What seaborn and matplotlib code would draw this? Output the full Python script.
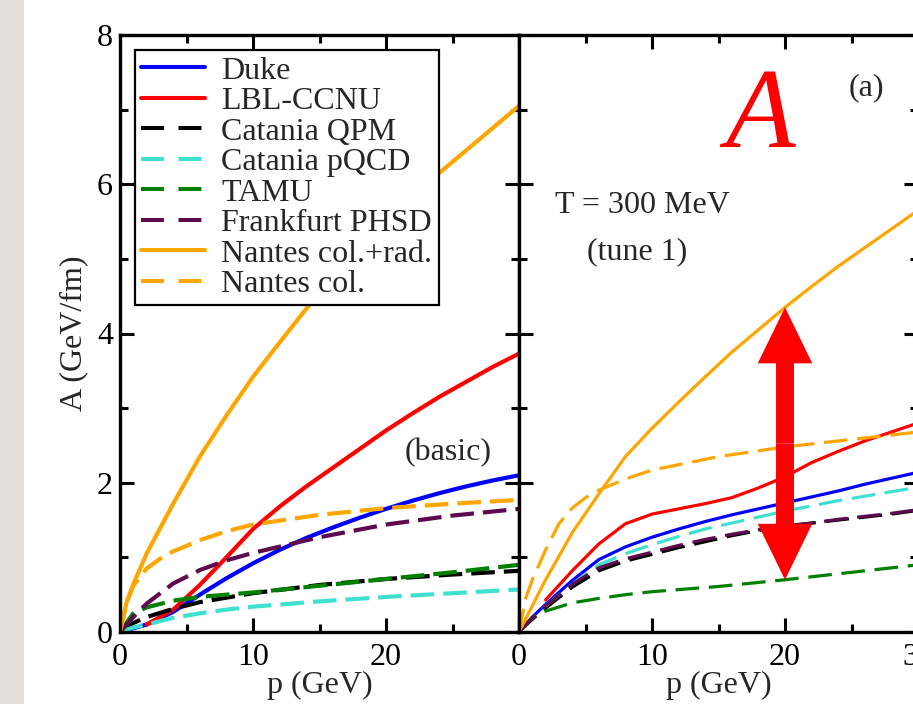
import numpy as np
import matplotlib
matplotlib.use("Agg")
import matplotlib.pyplot as plt
from matplotlib.lines import Line2D
from matplotlib.patches import FancyArrow, Rectangle
from matplotlib.ticker import MultipleLocator, FixedLocator, FixedFormatter
import seaborn as sns

# ---------------- drag coefficient A(p), T = 300 MeV ----------------
# momentum grids (GeV)
p_grid = [0, 2, 4, 6, 8, 10, 12, 14, 16, 18, 20, 22, 24, 26, 28, 30]
p_from2 = [2, 4, 6, 8, 10, 12, 14, 16, 18, 20, 22, 24, 26, 28, 30]
p_coarse = [0, 1, 2, 4, 6, 8, 10, 15, 20, 25, 30]
p_steep = [0, 0.5, 1, 2, 4, 6, 8, 10, 12, 14, 16, 18, 20, 22, 24, 26, 28, 30]
p_col = [0, 0.5, 1, 2, 3, 4, 6, 8, 10, 15, 20, 25, 30]
p_col_tune = [0, 0.5, 1, 2, 3, 4, 5, 6, 8, 10, 15, 20, 25, 30]
p_tune = [0, 1, 2, 4, 6, 8, 10, 12, 14, 16, 18, 20, 22, 24, 26, 28, 30]

# left panel: basic
duke_basic = [0, 0.1, 0.27, 0.5, 0.72, 0.92, 1.1, 1.26, 1.4, 1.53, 1.65, 1.76, 1.86, 1.95, 2.03, 2.1]
lbl_basic = [0.1, 0.3, 0.63, 1.0, 1.38, 1.68, 1.95, 2.2, 2.45, 2.7, 2.93, 3.15, 3.35, 3.55, 3.73]
qpm_basic = [0, 0.12, 0.2, 0.31, 0.4, 0.46, 0.52, 0.63, 0.71, 0.77, 0.82]
pqcd_basic = [0, 0.06, 0.1, 0.19, 0.25, 0.3, 0.34, 0.41, 0.47, 0.52, 0.57]
tamu_basic = [0, 0.25, 0.33, 0.42, 0.47, 0.5, 0.53, 0.62, 0.71, 0.8, 0.9]
phsd_basic = [0, 0.2, 0.38, 0.65, 0.83, 0.96, 1.06, 1.27, 1.44, 1.56, 1.65]
nantes_rad_basic = [0, 0.4, 0.64, 1.05, 1.72, 2.35, 2.9, 3.42, 3.88, 4.33, 4.75, 5.12,
                    5.48, 5.82, 6.15, 6.45, 6.75, 7.05]
nantes_col_basic = [0, 0.4, 0.62, 0.85, 0.98, 1.08, 1.23, 1.35, 1.44, 1.57, 1.66, 1.72, 1.77]

# right panel: tune 1
duke_tune = [0, 0.2, 0.37, 0.69, 0.97, 1.14, 1.27, 1.38, 1.48, 1.57, 1.65, 1.73, 1.81, 1.89, 1.98, 2.06, 2.14]
lbl_tune = [0.43, 0.82, 1.18, 1.45, 1.58, 1.65, 1.72, 1.8, 1.93, 2.08, 2.27, 2.42, 2.56, 2.68, 2.8]
qpm_tune = [0, 0.17, 0.32, 0.6, 0.82, 0.95, 1.04, 1.13, 1.21, 1.29, 1.36, 1.42, 1.46, 1.5, 1.54, 1.58, 1.63]
pqcd_tune = [0, 0.19, 0.35, 0.64, 0.9, 1.05, 1.17, 1.28, 1.38, 1.46, 1.54, 1.62, 1.69, 1.76, 1.82, 1.88, 1.94]
tamu_tune = [0, 0.2, 0.28, 0.39, 0.45, 0.5, 0.54, 0.61, 0.7, 0.8, 0.9]
phsd_tune = [0, 0.19, 0.35, 0.64, 0.86, 0.98, 1.07, 1.16, 1.24, 1.31, 1.37, 1.42, 1.46, 1.51, 1.55, 1.59, 1.64]
nantes_rad_tune = [0, 0.7, 1.33, 1.85, 2.35, 2.73, 3.08, 3.42, 3.75, 4.05, 4.35, 4.63, 4.9, 5.15, 5.4, 5.65]
nantes_col_tune = [0, 0.45, 0.7, 1.1, 1.45, 1.66, 1.8, 1.9, 2.05, 2.17, 2.35, 2.48, 2.58, 2.68]

models = ["Duke", "LBL-CCNU", "Catania QPM", "Catania pQCD", "TAMU",
          "Frankfurt PHSD", "Nantes col.+rad.", "Nantes col."]

basic = {
    "Duke": (p_grid, duke_basic),
    "LBL-CCNU": (p_from2, lbl_basic),
    "Catania QPM": (p_coarse, qpm_basic),
    "Catania pQCD": (p_coarse, pqcd_basic),
    "TAMU": (p_coarse, tamu_basic),
    "Frankfurt PHSD": (p_coarse, phsd_basic),
    "Nantes col.+rad.": (p_steep, nantes_rad_basic),
    "Nantes col.": (p_col, nantes_col_basic),
}
tune1 = {
    "Duke": (p_tune, duke_tune),
    "LBL-CCNU": (p_from2, lbl_tune),
    "Catania QPM": (p_tune, qpm_tune),
    "Catania pQCD": (p_tune, pqcd_tune),
    "TAMU": (p_coarse, tamu_tune),
    "Frankfurt PHSD": (p_tune, phsd_tune),
    "Nantes col.+rad.": (p_grid, nantes_rad_tune),
    "Nantes col.": (p_col_tune, nantes_col_tune),
}

# line colour and whether the curve is dashed
STYLE = {
    "Duke": ("#0000ff", False),
    "LBL-CCNU": ("#ff0000", False),
    "Catania QPM": ("#000000", True),
    "Catania pQCD": ("#40e0d0", True),
    "TAMU": ("#008000", True),
    "Frankfurt PHSD": ("#5e0a4e", True),
    "Nantes col.+rad.": ("#ffa500", False),
    "Nantes col.": ("#ffa500", True),
}

sns.set_style("ticks")
plt.rcParams["font.family"] = ["Liberation Serif", "DejaVu Serif"]
plt.rcParams["lines.scale_dashes"] = False

FS = 23
fig = plt.figure(figsize=(9.13, 7.04), dpi=100)
fig.add_artist(Rectangle((0, 0), 24 / 913, 1, transform=fig.transFigure,
                         facecolor="#e4e1dd", edgecolor="none", zorder=0))

ax_l = fig.add_axes([120 / 913, 72 / 704, 399 / 913, 597 / 704])
ax_r = fig.add_axes([519 / 913, 72 / 704, 399 / 913, 597 / 704])


def draw_panel(ax, series, lw, dash):
    for name in models:
        p, a = series[name]
        color, dashed = STYLE[name]
        ls = (0, dash) if dashed else "-"
        sns.lineplot(x=p, y=a, ax=ax, color=color, linewidth=lw, linestyle=ls,
                     estimator=None, sort=False, legend=False)


draw_panel(ax_l, basic, 3.0, (17, 6.5))
draw_panel(ax_r, tune1, 2.3, (17, 7))

for ax in (ax_l, ax_r):
    ax.set_xlim(0, 30)
    ax.set_ylim(0, 8)
    ax.set_facecolor("white")
    ax.xaxis.set_major_locator(FixedLocator([0, 10, 20, 30]))
    ax.xaxis.set_minor_locator(MultipleLocator(5))
    ax.yaxis.set_major_locator(MultipleLocator(2))
    ax.yaxis.set_minor_locator(MultipleLocator(1))
    ax.tick_params(which="both", direction="in", top=True, right=True,
                   width=2.2, colors="black", labelsize=FS)
    ax.tick_params(which="major", length=10)
    ax.tick_params(which="minor", length=5.5)
    ax.tick_params(axis="x", pad=8)
    ax.tick_params(axis="y", pad=5)
    for s in ax.spines.values():
        s.set_linewidth(2.4)
        s.set_color("black")
    ax.set_xlabel("p (GeV)", fontsize=FS)
    ax.xaxis.set_label_coords(0.5, -0.066)
    ax.set_ylabel("")

ax_l.xaxis.set_major_formatter(FixedFormatter(["0", "10", "20", ""]))
ax_r.xaxis.set_major_formatter(FixedFormatter(["0", "10", "20", "30"]))
ax_r.tick_params(axis="y", labelleft=False)
ax_l.set_ylabel("A (GeV/fm)", fontsize=FS)
ax_l.yaxis.set_label_coords(-0.08, 0.5)

# legend
handles = []
for name in models:
    color, dashed = STYLE[name]
    handles.append(Line2D([], [], color=color, lw=2.9,
                          linestyle=(0, (16.5, 10.5)) if dashed else "-"))
leg = ax_l.legend(handles, models, loc="upper left", bbox_to_anchor=(0.0376, 0.975),
                  borderaxespad=0, fontsize=23, frameon=True, fancybox=False,
                  edgecolor="black", framealpha=1, handlelength=2.0,
                  handletextpad=0.5, labelspacing=0.035, borderpad=0.2)
leg.get_frame().set_linewidth(1.6)

ax_l.text(21.4, 2.41, "(basic)", fontsize=FS, va="center", ha="left")
ax_r.text(2.7, 5.72, "T = 300 MeV", fontsize=FS, va="center", ha="left")
ax_r.text(5.1, 5.1, "(tune 1)", fontsize=FS, va="center", ha="left")
ax_r.text(26.1, 7.3, "(a)", fontsize=FS, va="center", ha="center")
ax_r.text(18.1, 6.5, "A", fontsize=82, color="#ff0000", style="italic",
          ha="center", va="baseline")

# spread between the largest and smallest drag at p = 20 GeV
p_mark = 20
top = np.interp(p_mark, p_grid, nantes_rad_tune)
bottom = np.interp(p_mark, p_coarse, tamu_tune)
mid = 0.5 * (top + bottom)
for end in (top, bottom):
    ax_r.add_patch(FancyArrow(p_mark, mid, 0, end - mid, width=1.35, head_width=4.1,
                              head_length=0.75, length_includes_head=True,
                              color="#ff0000", lw=0, zorder=6))

fig.savefig("out.png", dpi=100)
